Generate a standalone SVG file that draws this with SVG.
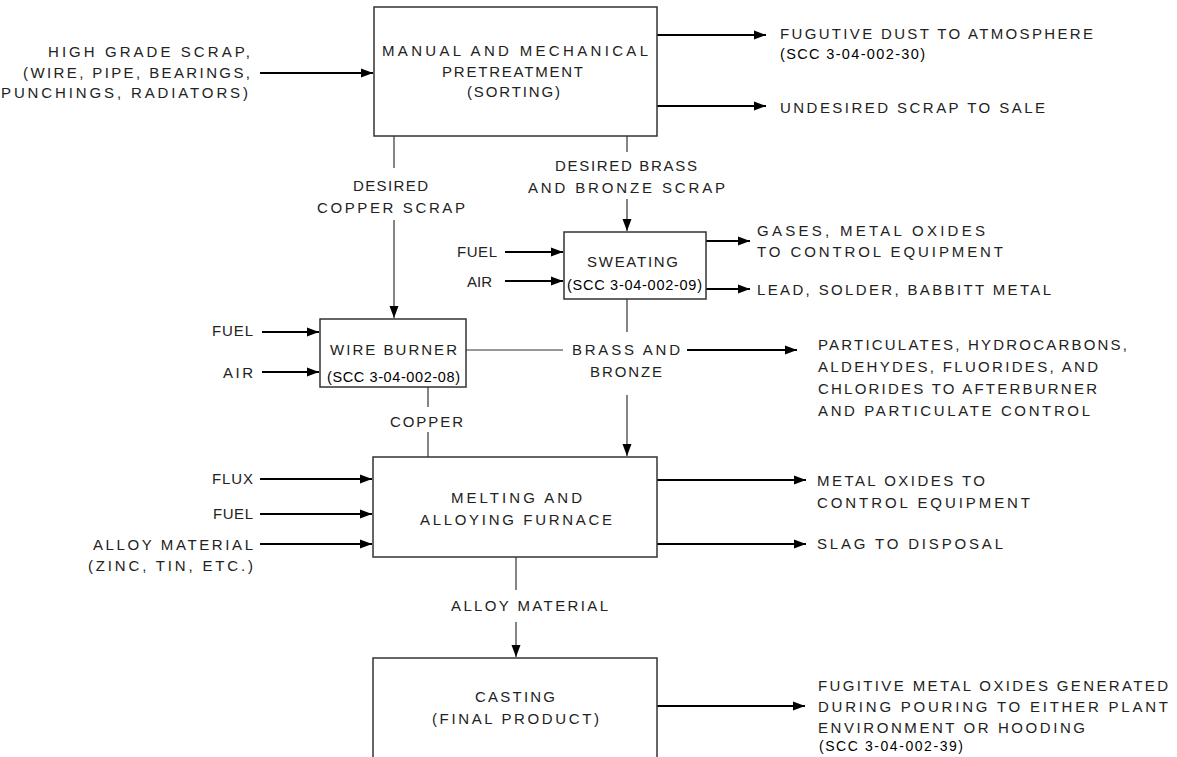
<svg xmlns="http://www.w3.org/2000/svg" width="1177" height="757" viewBox="0 0 1177 757">
<style>
text{font-family:"Liberation Sans",Arial,sans-serif;font-size:15px;fill:#222;}
text.scc{font-size:14.5px;fill:#000;}
.box{fill:#fff;stroke:#333;stroke-width:1.5;}
.thin{fill:none;stroke:#333;stroke-width:1.2;}
.thick{fill:none;stroke:#000;stroke-width:2.2;}
</style>
<defs>
<marker id="ah" markerUnits="userSpaceOnUse" markerWidth="12" markerHeight="10" refX="12" refY="5" orient="auto">
<path d="M0,0.5 L12,5 L0,9.5 z" fill="#000"/>
</marker>
</defs>
<rect width="1177" height="757" fill="#fff"/>

<g id="connectors">
<path class="thick" d="M260,73 H373" marker-end="url(#ah)"/>
<path class="thick" d="M657,35 H766" marker-end="url(#ah)"/>
<path class="thick" d="M657,106 H766" marker-end="url(#ah)"/>
<path class="thin" d="M394,136 V168"/>
<path class="thin" d="M394,220 V318" marker-end="url(#ah)"/>
<path class="thin" d="M627,136 V152"/>
<path class="thin" d="M627,199 V231" marker-end="url(#ah)"/>
<path class="thick" d="M505,252 H563" marker-end="url(#ah)"/>
<path class="thick" d="M505,281 H563" marker-end="url(#ah)"/>
<path class="thick" d="M706,241 H750" marker-end="url(#ah)"/>
<path class="thick" d="M706,289 H750" marker-end="url(#ah)"/>
<path class="thin" d="M627,299 V332"/>
<path class="thin" d="M627,395 V456" marker-end="url(#ah)"/>
<path class="thick" d="M262,332 H319" marker-end="url(#ah)"/>
<path class="thick" d="M262,372 H319" marker-end="url(#ah)"/>
<path class="thin" d="M466,350 H563"/>
<path class="thick" d="M687,350 H797" marker-end="url(#ah)"/>
<path class="thin" d="M428,387 V407"/>
<path class="thin" d="M428,432 V457"/>
<path class="thick" d="M260,479 H372" marker-end="url(#ah)"/>
<path class="thick" d="M260,514 H372" marker-end="url(#ah)"/>
<path class="thick" d="M260,544 H372" marker-end="url(#ah)"/>
<path class="thick" d="M657,480 H806" marker-end="url(#ah)"/>
<path class="thick" d="M657,544 H806" marker-end="url(#ah)"/>
<path class="thin" d="M516,557 V590"/>
<path class="thin" d="M516,622 V657" marker-end="url(#ah)"/>
<path class="thick" d="M657,706 H805" marker-end="url(#ah)"/>
</g>

<g id="manual">
<rect class="box" x="374" y="7" width="283" height="129"/>
<text x="382" y="56" textLength="266">MANUAL AND MECHANICAL</text>
<text x="442" y="77" textLength="141">PRETREATMENT</text>
<text x="467" y="97" textLength="93">(SORTING)</text>
</g>

<g id="sweating">
<rect class="box" x="564" y="232" width="142" height="67"/>
<text x="587" y="267" textLength="91">SWEATING</text>
<text class="scc" x="567" y="290" textLength="135">(SCC 3-04-002-09)</text>
</g>

<g id="wire-burner">
<rect class="box" x="320" y="319" width="146" height="68"/>
<text x="330" y="355" textLength="127">WIRE BURNER</text>
<text class="scc" x="327" y="382" textLength="133">(SCC 3-04-002-08)</text>
</g>

<g id="melting">
<rect class="box" x="373" y="457" width="284" height="100"/>
<text x="451" y="503" textLength="131">MELTING AND</text>
<text x="420" y="525" textLength="192">ALLOYING FURNACE</text>
</g>

<g id="casting">
<rect class="box" x="373" y="658" width="284" height="110"/>
<text x="475" y="702" textLength="80">CASTING</text>
<text x="432" y="724" textLength="167">(FINAL PRODUCT)</text>
</g>

<g id="labels">
<text x="48" y="57" textLength="202">HIGH GRADE SCRAP,</text>
<text x="23" y="78" textLength="227">(WIRE, PIPE, BEARINGS,</text>
<text x="1" y="98" textLength="247">PUNCHINGS, RADIATORS)</text>

<text x="780" y="39" textLength="313">FUGUTIVE DUST TO ATMOSPHERE</text>
<text class="scc" x="780" y="59" textLength="145">(SCC 3-04-002-30)</text>
<text x="780" y="113" textLength="265">UNDESIRED SCRAP TO SALE</text>

<text x="353" y="191" textLength="75">DESIRED</text>
<text x="317" y="213" textLength="148">COPPER SCRAP</text>
<text x="555" y="171" textLength="142">DESIRED BRASS</text>
<text x="528" y="193" textLength="197">AND BRONZE SCRAP</text>

<text x="457" y="257" textLength="40">FUEL</text>
<text x="467" y="287" textLength="25">AIR</text>
<text x="757" y="236" textLength="228">GASES, METAL OXIDES</text>
<text x="757" y="257" textLength="246">TO CONTROL EQUIPMENT</text>
<text x="757" y="295" textLength="294">LEAD, SOLDER, BABBITT METAL</text>

<text x="212" y="336" textLength="41">FUEL</text>
<text x="223" y="378" textLength="30">AIR</text>
<text x="572" y="355" textLength="108">BRASS AND</text>
<text x="590" y="377" textLength="72">BRONZE</text>
<text x="390" y="427" textLength="73">COPPER</text>

<text x="818" y="350" textLength="309">PARTICULATES, HYDROCARBONS,</text>
<text x="818" y="372" textLength="280">ALDEHYDES, FLUORIDES, AND</text>
<text x="818" y="394" textLength="279">CHLORIDES TO AFTERBURNER</text>
<text x="818" y="416" textLength="272">AND PARTICULATE CONTROL</text>

<text x="212" y="484" textLength="41">FLUX</text>
<text x="213" y="519" textLength="40">FUEL</text>
<text x="93" y="550" textLength="160">ALLOY MATERIAL</text>
<text x="88" y="571" textLength="165">(ZINC, TIN, ETC.)</text>

<text x="817" y="486" textLength="168">METAL OXIDES TO</text>
<text x="817" y="508" textLength="213">CONTROL EQUIPMENT</text>
<text x="817" y="549" textLength="186">SLAG TO DISPOSAL</text>

<text x="451" y="611" textLength="157">ALLOY MATERIAL</text>

<text x="818" y="691" textLength="350">FUGITIVE METAL OXIDES GENERATED</text>
<text x="818" y="712" textLength="350">DURING POURING TO EITHER PLANT</text>
<text x="818" y="733" textLength="267">ENVIRONMENT OR HOODING</text>
<text class="scc" x="819" y="751" textLength="144" style="font-size:14px">(SCC 3-04-002-39)</text>
</g>
</svg>
